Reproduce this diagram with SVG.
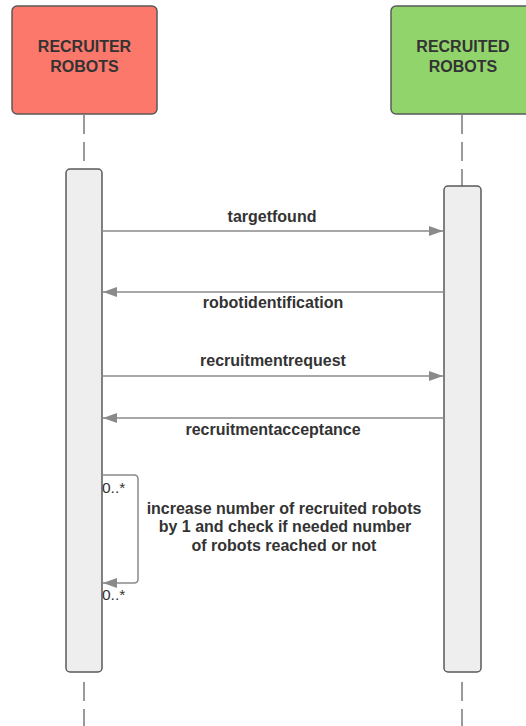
<svg xmlns="http://www.w3.org/2000/svg" width="526" height="726" viewBox="0 0 526 726">
  <defs>
    <style>
      .actor { stroke: #5a5a5a; stroke-width: 1.5; }
      .life { stroke: #7a7a7a; stroke-width: 1.5; stroke-dasharray: 19 8; fill: none; }
      .act { fill: #eeeeee; stroke: #5a5a5a; stroke-width: 1.5; }
      .msg { stroke: #8a8a8a; stroke-width: 1.5; fill: none; }
      .title { font-family: "Liberation Sans", Arial, sans-serif; font-weight: bold; font-size: 16px; fill: #333333; text-anchor: middle; }
      .label { font-family: "Liberation Sans", Arial, sans-serif; font-weight: bold; font-size: 16px; fill: #333333; text-anchor: middle; }
      .mult { font-family: "Liberation Sans", Arial, sans-serif; font-size: 15.5px; fill: #333333; }
    </style>
    <marker id="arrow" viewBox="0 0 14 10" refX="14" refY="5" markerWidth="14" markerHeight="10" markerUnits="userSpaceOnUse" orient="auto">
      <path d="M0,0 L14,5 L0,10 Z" fill="#8a8a8a"/>
    </marker>
  </defs>

  <rect width="526" height="726" fill="#ffffff"/>

  <!-- lifelines -->
  <g id="lifelines">
    <line class="life" x1="84" y1="115" x2="84" y2="169"/>
    <line class="life" x1="84" y1="682" x2="84" y2="726"/>
    <line class="life" x1="462" y1="115" x2="462" y2="186"/>
    <line class="life" x1="462" y1="682" x2="462" y2="726"/>
  </g>

  <g id="recruiter">
    <rect class="actor" x="12" y="6" width="145" height="108" rx="5" fill="#fc786b"/>
    <text class="title" x="84.5" y="52">RECRUITER</text>
    <text class="title" x="84.5" y="72">ROBOTS</text>
  </g>

  <g id="recruited">
    <rect class="actor" x="391" y="6" width="145" height="108" rx="5" fill="#92d46c"/>
    <text class="title" x="463" y="52">RECRUITED</text>
    <text class="title" x="463" y="72">ROBOTS</text>
  </g>

  <g id="recruiter-activation">
    <rect class="act" x="66" y="169" width="36" height="503" rx="4"/>
  </g>

  <g id="recruited-activation">
    <rect class="act" x="444" y="186" width="37" height="486" rx="4"/>
  </g>

  <!-- messages -->
  <g id="connectors">
    <line class="msg" x1="102" y1="231" x2="443" y2="231" marker-end="url(#arrow)"/>
    <line class="msg" x1="444" y1="292" x2="103" y2="292" marker-end="url(#arrow)"/>
    <line class="msg" x1="102" y1="376" x2="443" y2="376" marker-end="url(#arrow)"/>
    <line class="msg" x1="444" y1="418" x2="103" y2="418" marker-end="url(#arrow)"/>
    <path class="msg" d="M102,475 H134 Q138,475 138,479 V579 Q138,583 134,583 H103" marker-end="url(#arrow)"/>
  </g>

  <g id="labels">
    <text class="label" x="272" y="222">targetfound</text>
    <text class="label" x="273" y="308">robotidentification</text>
    <text class="label" x="273" y="366">recruitmentrequest</text>
    <text class="label" x="273" y="435">recruitmentacceptance</text>
    <text class="label" x="284" y="514">increase number of recruited robots</text>
    <text class="label" x="285" y="532">by 1 and check if needed number</text>
    <text class="label" x="284" y="551">of robots reached or not</text>
    <text class="mult" x="102" y="493">0..*</text>
    <text class="mult" x="102" y="600">0..*</text>
  </g>
</svg>
